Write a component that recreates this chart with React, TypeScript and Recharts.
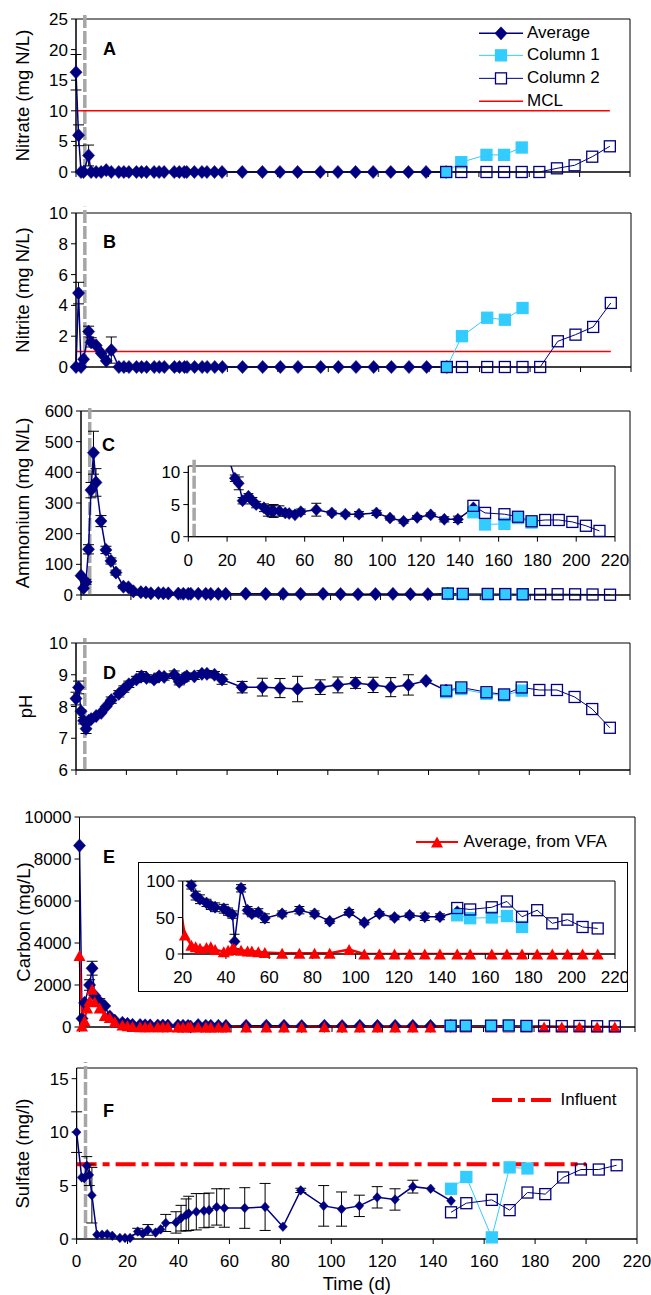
import React from 'react';
import { ComposedChart, Line, XAxis, YAxis, ErrorBar, ReferenceLine, ReferenceArea, Legend } from 'recharts';

const NAVY = '#000080';
const CYAN = '#33CCFF';
const RED = '#FF0000';
const GREY = '#A6A6A6';
const FONT = '"Liberation Sans", Arial, Helvetica, sans-serif';
const W = 651;

// sampling days
const avgDays = [
  0, 1, 2, 3, 4, 5, 6,
  8, 10, 12, 14, 17, 19, 21,
  24, 26, 28, 31, 33, 35,
  39, 41, 43, 44, 47, 50, 52, 55, 58,
  66, 74, 81, 88, 97, 104,
  111, 118, 125, 132, 139, 147,
];
const col1Days = [147, 153, 163, 170, 177];
const col2Days = [147, 153, 163, 170, 177, 184, 191, 198, 205, 212];
const vfaDays = [...avgDays, 153, 163, 170, 177, 184, 191, 198, 205, 212];
const limitDays = [0, 212];
const influentDays = [0, 200];
const xTicks = [0, 20, 40, 60, 80, 100, 120, 140, 160, 180, 200, 220];
const insetTicksE = [20, 40, 60, 80, 100, 120, 140, 160, 180, 200, 220];
const startupDay = 3.5;

// A - nitrate
const nitrateAvg = [
  16.3, 6.0, 0, 0, null, 2.7, 0,
  0, 0, 0.3, 0, 0, 0, 0,
  0, 0, 0, 0, 0, 0,
  0, 0, 0, 0, 0, 0, 0, 0, 0,
  0, 0, 0, 0, 0, 0,
  0, 0, 0, 0, 0, 0,
];
const nitrateErr = [
  2.9, 1.7, null, null, null, 1.7, null,
];
const nitrateCol1 = [0, 1.6, 2.8, 2.8, 4.0];
const nitrateCol2 = [0, 0, 0, 0, 0, 0, 0.6, 1.1, 2.5, 4.2];
const nitrateMcl = [10, 10];

// B - nitrite
const nitriteAvg = [
  0, 4.8, 0, 0.5, null, 2.3, 1.6,
  1.4, 0.9, 0.4, 1.1, 0, 0, 0,
  0, 0, 0, 0, 0, 0,
  0, 0, 0, 0, 0, 0, 0, 0, 0,
  0, 0, 0, 0, 0, 0,
  0, 0, 0, 0, 0, 0,
];
const nitriteErr = [
  null, 0.7, null, null, null, 0.35, 0.3,
  null, null, null, 0.85,
];
const nitriteCol1 = [0, 2.0, 3.2, 3.07, 3.83];
const nitriteCol2 = [0, 0, 0, 0, 0, 0, 1.67, 2.1, 2.6, 4.16];
const nitriteMcl = [1, 1];

// C - ammonium
const ammoniumAvg = [
  63, 22, 43, 149, 342, 464, 367,
  241, 147, 111, 73, 27, 25, 12,
  9.1, 8.3, 5.6, 6.3, 5.6, 5.0,
  4.5, 4.0, 4.0, 4.0, 4.0, 3.7, 3.6, 3.4, 3.9,
  4.2, 3.7, 3.5, 3.5, 3.7, 2.9,
  2.4, 3.0, 3.4, 2.7, 2.7, 4.5,
];
const ammoniumErr = [
  null, null, 8, 15, 25, 70, 45,
  18, 12, 10, 8, 5, null, null,
  0.5, 1.0, 0.5, 0.4, 0.5, 0.5,
  0.6, 0.8, 0.9, 1.0, 0.8, 0.5, 0.4, null, 0.4,
  1.0, 0.3, 0.3, 0.4, 0.4, 0.3,
  0.3, 0.3, 0.3, 0.4, 0.5, null,
];
const ammoniumCol1 = [3.8, 1.9, 2.0, 2.9, 2.2];
const ammoniumCol2 = [4.8, 3.7, 3.5, 3.1, 2.4, 2.6, 2.6, 2.3, 1.7, 0.9];

// D - pH
const phAvg = [
  8.25, 8.6, 7.85, 7.55, 7.3, 7.55, 7.6,
  7.7, 7.8, 8.0, 8.2, 8.4, 8.55, 8.7,
  8.85, 8.95, 8.9, 8.85, 8.95, 8.93,
  9.0, 8.78, 8.9, 8.95, 8.95, 9.03, 9.03, 9.0, 8.85,
  8.61, 8.61, 8.58, 8.55, 8.61, 8.68,
  8.74, 8.68, 8.61, 8.68, 8.81, 8.5,
];
const phErr = [
  0.2, 0.2, null, 0.1, 0.15, null, null,
  null, null, null, 0.1, 0.1, 0.1, 0.1,
  0.1, 0.15, 0.1, 0.1, 0.1, 0.1,
  0.12, 0.1, 0.1, 0.1, 0.1, 0.1, 0.1, 0.1, 0.15,
  0.18, 0.28, 0.3, 0.4, 0.23, 0.25,
  0.17, 0.24, 0.3, 0.32, null, null,
];
const phCol1 = [8.45, 8.55, 8.4, 8.35, 8.5];
const phCol2 = [8.5, 8.6, 8.45, 8.38, 8.6, 8.52, 8.52, 8.3, 7.92, 7.33];

// E - carbon
const carbonAvg = [
  8640, 400, 1150, null, 2000, 2800, 1500,
  1200, 1000, 500, 300, 200, 150, 103,
  94, 80, 75, 70, 66, 64,
  62, 58, 54, 17, 90, 60, 55, 57, 49,
  55, 60, 55, 45, 57, 43,
  55, 50, 53, 51, 51, 58,
];
const carbonErr = [
  null, null, null, null, 250, 330, null,
  150, null, null, null, null, null, 6,
  5, 6, 6, 5, 5, 6,
  6, 5, 5, 10, 5, 5, 4, 5, 6,
  4, 5, 4, 3, 4, 3,
  3, 3, 3, 5, 4, null,
];
const carbonVfa = [
  3400, 50, 300, 900, 1250, 1800, 1200,
  900, 550, 450, 250, 100, 60, 26,
  12, 10, 8, 9, 10, 6,
  3, 5, 8, 7, 5, 4, 4, 3, 2,
  1, 1, 1, 1, 6, 0,
  0, 0, 0, 0, 0, 0,
  0, 0, 0, 0, 0, 0, 0, 0, 0,
];
const carbonCol1 = [53, 49, 50, 52, 37];
const carbonCol2 = [63, 61, 64, 72, 51, 60, 42, 47, 37, 35];

// F - sulfate
const sulfateAvg = [
  10.0, null, 5.76, 5.7, 6.86, 6.0, 4.1,
  0.4, 0.4, 0.45, 0.3, 0.1, 0.1, 0.1,
  0.7, 0.5, 0.85, 0.6, 0.9, 1.5,
  1.55, 1.95, 2.25, 2.4, 2.55, 2.65, 2.7, 3.0, 2.9,
  2.9, 3.0, 1.15, 4.55, 3.1, 2.8,
  3.1, 3.9, 3.7, 4.9, 4.7, 3.57,
];
const sulfateErr = [
  1.9, null, null, null, 0.85, 1.0, 2.6,
  null, null, null, null, null, null, null,
  0.3, null, 0.5, null, null, 0.8,
  1.0, 1.2, 1.5, 1.6, 1.7, 1.6, 1.6, 1.7, 1.8,
  1.9, 2.2, null, 0.2, 1.9, 1.6,
  1.0, 1.0, 1.0, 0.6, null, null,
];
const sulfateCol1 = [4.7, 5.8, 0.15, 6.7, 6.6];
const sulfateCol2 = [2.5, 3.35, 3.66, 2.7, 4.35, 4.2, 5.76, 6.5, 6.5, 6.9];
const sulfateInfluent = [7, 7];

type Pt = { x: number; y: number; e?: number };
function pts(days: number[], vals: (number | null)[], errs?: (number | null)[]): Pt[] {
  const out: Pt[] = [];
  days.forEach((d, i) => {
    const v = vals[i];
    if (v == null) return;
    const e = errs ? errs[i] : null;
    out.push(e == null ? { x: d, y: v } : { x: d, y: v, e });
  });
  return out;
}
// points that fall inside an inset's window
function within(data: Pt[], xMin: number, yMax: number): Pt[] {
  return data.filter((p) => p.x >= xMin && p.y <= yMax);
}

type DotP = { cx?: number; cy?: number; index?: number };

const diamond = (r: number) => (p: DotP) => {
  const { cx, cy, index } = p;
  if (cx == null || cy == null) return <g key={`dm${index}`} />;
  const w = r * 0.92;
  return (
    <path key={`dm${index}`} d={`M${cx},${cy - r}L${cx + w},${cy}L${cx},${cy + r}L${cx - w},${cy}Z`}
      fill={NAVY} stroke={NAVY} strokeWidth={0.5} />
  );
};
const square = (s: number, fill: string, stroke: string) => (p: DotP) => {
  const { cx, cy, index } = p;
  if (cx == null || cy == null) return <g key={`sq${index}`} />;
  return <rect key={`sq${index}`} x={cx - s / 2} y={cy - s / 2} width={s} height={s} fill={fill} stroke={stroke} strokeWidth={1.3} />;
};
const triangle = (w: number, h: number) => (p: DotP) => {
  const { cx, cy, index } = p;
  if (cx == null || cy == null) return <g key={`tr${index}`} />;
  return <path key={`tr${index}`} d={`M${cx},${cy - h / 2}L${cx + w / 2},${cy + h / 2}L${cx - w / 2},${cy + h / 2}Z`} fill={RED} />;
};

const tickStyle = { fill: '#000', fontSize: 17, fontFamily: FONT };
const axisStroke = { stroke: '#000', strokeWidth: 1 };

type Box = { left: number; right: number; top: number; bottom: number };
const boxA: Box = { left: 76, right: 630, top: 19, bottom: 172 };
const boxB: Box = { left: 76, right: 631, top: 213, bottom: 367 };
const boxC: Box = { left: 81, right: 630, top: 411, bottom: 595 };
const boxD: Box = { left: 76, right: 630, top: 643, bottom: 770 };
const boxE: Box = { left: 79.5, right: 635, top: 817, bottom: 1027 };
const boxF: Box = { left: 76.6, right: 637, top: 1068, bottom: 1239 };
const PAD = 19;
const AXH = 12;
const DR = 6.6; // main diamond half-height
const SQ = 11;

function hiddenX(height: number) {
  return (
    <XAxis type="number" dataKey="x" domain={[0, 220]} ticks={xTicks} height={height} tickSize={5}
      tickFormatter={() => ''} axisLine={axisStroke} tickLine={axisStroke} />
  );
}

function leftY(domain: number[], ticks: number[], width: number, label: string, center = 22) {
  return (
    <YAxis type="number" domain={domain} ticks={ticks} width={width} tickSize={5} tickMargin={3}
      tick={tickStyle} axisLine={axisStroke} tickLine={axisStroke} interval={0}
      label={{ value: label, angle: -90, position: 'insideLeft', offset: center,
        style: { textAnchor: 'middle', fontSize: 18.5, fontFamily: FONT, fill: '#000' } }} />
  );
}

function frame(x1: number, x2: number, y1: number, y2: number) {
  return <ReferenceArea x1={x1} x2={x2} y1={y1} y2={y2} fill="none" fillOpacity={0} stroke="#000" strokeWidth={1} ifOverflow="visible" />;
}

function startup(x: number, y1: number, y2: number) {
  return (
    <ReferenceLine segment={[{ x, y: y1 }, { x, y: y2 }]} stroke={GREY} strokeWidth={3.5}
      strokeDasharray="13 3" ifOverflow="visible" />
  );
}

function avgLine(data: Pt[], r: number) {
  return (
    <Line data={data} dataKey="y" type="linear" stroke={NAVY} strokeWidth={1.5} dot={diamond(r)}
      activeDot={false} isAnimationActive={false}>
      <ErrorBar dataKey="e" width={5.5} stroke="#000" strokeWidth={1} direction="y" />
    </Line>
  );
}
function col1Line(data: Pt[], s = SQ) {
  return <Line data={data} dataKey="y" type="linear" stroke={CYAN} strokeWidth={1} dot={square(s, CYAN, CYAN)} activeDot={false} isAnimationActive={false} />;
}
function col2Line(data: Pt[], s = SQ) {
  return <Line data={data} dataKey="y" type="linear" stroke={NAVY} strokeWidth={1} dot={square(s, 'none', NAVY)} activeDot={false} isAnimationActive={false} />;
}
function vfaLine(data: Pt[]) {
  return <Line data={data} dataKey="y" type="linear" stroke={RED} strokeWidth={2} dot={triangle(12, 11)} activeDot={false} isAnimationActive={false} />;
}
function limitLine(data: Pt[]) {
  return <Line data={data} dataKey="y" type="linear" stroke={RED} strokeWidth={1.5} dot={false} activeDot={false} isAnimationActive={false} />;
}

// inset helpers: the line is clipped to the inset window, the markers are drawn on unclipped twin axes
function insetPath(data: Pt[], stroke: string, width: number) {
  return <Line data={data} dataKey="y" type="linear" stroke={stroke} strokeWidth={width} dot={false} activeDot={false} isAnimationActive={false} />;
}
function insetMarks(data: Pt[], dot: (p: DotP) => React.ReactElement, withErr = false) {
  return (
    <Line xAxisId="m" yAxisId="m" data={data} dataKey="y" type="linear" stroke="none" dot={dot}
      activeDot={false} isAnimationActive={false}>
      {withErr ? <ErrorBar dataKey="e" width={5} stroke="#000" strokeWidth={1} direction="y" /> : null}
    </Line>
  );
}
function twinAxes(xDomain: number[], yDomain: number[]) {
  return [
    <XAxis key="tx" xAxisId="m" hide type="number" dataKey="x" domain={xDomain} />,
    <YAxis key="ty" yAxisId="m" hide type="number" domain={yDomain} />,
  ];
}

type Row = { label: string; icon: (w: number, cy: number) => React.ReactNode };
function LegendRows({ rows, rowH, iconW, gap }: { rows: Row[]; rowH: number; iconW: number; gap: number }) {
  return (
    <div style={{ fontFamily: FONT, fontSize: 17, color: '#000' }}>
      {rows.map((r) => (
        <div key={r.label} style={{ display: 'flex', alignItems: 'center', height: rowH }}>
          <svg width={iconW} height={rowH} style={{ display: 'block', flex: 'none' }}>{r.icon(iconW, rowH / 2)}</svg>
          <span style={{ marginLeft: gap, whiteSpace: 'nowrap', lineHeight: `${rowH}px` }}>{r.label}</span>
        </div>
      ))}
    </div>
  );
}

const legendA: Row[] = [
  { label: 'Average', icon: (w, c) => (<g><line x1={0} x2={w} y1={c} y2={c} stroke={NAVY} strokeWidth={1.5} />{diamond(DR)({ cx: w / 2, cy: c, index: 0 })}</g>) },
  { label: 'Column 1', icon: (w, c) => (<g><line x1={0} x2={w} y1={c} y2={c} stroke={CYAN} strokeWidth={1} />{square(SQ, CYAN, CYAN)({ cx: w / 2, cy: c, index: 0 })}</g>) },
  { label: 'Column 2', icon: (w, c) => (<g><line x1={0} x2={w} y1={c} y2={c} stroke={NAVY} strokeWidth={1} />{square(SQ, '#fff', NAVY)({ cx: w / 2, cy: c, index: 0 })}</g>) },
  { label: 'MCL', icon: (w, c) => <line x1={0} x2={w} y1={c} y2={c} stroke={RED} strokeWidth={1.5} /> },
];
const legendE: Row[] = [
  { label: 'Average, from VFA', icon: (w, c) => (<g><line x1={0} x2={w} y1={c} y2={c} stroke={RED} strokeWidth={2} />{triangle(12, 11)({ cx: w / 2, cy: c, index: 0 })}</g>) },
];
const legendF: Row[] = [
  { label: 'Influent', icon: (w, c) => <line x1={0} x2={w} y1={c} y2={c} stroke={RED} strokeWidth={4} strokeDasharray="20 6 7 6" /> },
];

function legendAt(rows: Row[], left: number, top: number, rowH: number, iconW: number, gap: number) {
  return (
    <Legend layout="vertical" align="center" verticalAlign="middle"
      wrapperStyle={{ left, top, width: 200, height: rows.length * rowH }}
      content={() => <LegendRows rows={rows} rowH={rowH} iconW={iconW} gap={gap} />} />
  );
}

function chartSize(b: Box, axisH: number) {
  return {
    width: W,
    height: PAD + (b.bottom - b.top) + axisH,
    margin: { top: PAD, right: W - b.right, bottom: 0, left: 0 },
  };
}

function Letter({ text, x, y }: { text: string; x: number; y: number }) {
  return (
    <div style={{ position: 'absolute', left: x, top: y - 11, height: 22, lineHeight: '22px', fontFamily: FONT, fontWeight: 'bold', fontSize: 18, color: '#000' }}>
      {text}
    </div>
  );
}

export default function App() {
  const fAxisH = 1295 - boxF.bottom;
  const ammAvgPts = pts(avgDays, ammoniumAvg, ammoniumErr);
  const ammCol1Pts = pts(col1Days, ammoniumCol1);
  const ammCol2Pts = pts(col2Days, ammoniumCol2);
  const carbAvgPts = pts(avgDays, carbonAvg, carbonErr);
  const carbVfaPts = pts(vfaDays, carbonVfa);
  const carbCol1Pts = pts(col1Days, carbonCol1);
  const carbCol2Pts = pts(col2Days, carbonCol2);
  return (
    <div style={{ position: 'absolute', left: 0, top: 0, width: W, height: 1295, background: '#fff', overflow: 'hidden' }}>
      {/* A */}
      <div style={{ position: 'absolute', left: 0, top: boxA.top - PAD }}>
        <ComposedChart {...chartSize(boxA, AXH)}>
          {hiddenX(AXH)}
          {leftY([0, 25], [0, 5, 10, 15, 20, 25], boxA.left, 'Nitrate (mg N/L)')}
          {frame(0, 220, 0, 25)}
          {startup(startupDay, 0, 26)}
          {limitLine(pts(limitDays, nitrateMcl))}
          {avgLine(pts(avgDays, nitrateAvg, nitrateErr), DR)}
          {col1Line(pts(col1Days, nitrateCol1))}
          {col2Line(pts(col2Days, nitrateCol2))}
          {legendAt(legendA, 479, 21.7, 22.7, 44, 4)}
        </ComposedChart>
      </div>

      {/* B */}
      <div style={{ position: 'absolute', left: 0, top: boxB.top - PAD }}>
        <ComposedChart {...chartSize(boxB, AXH)}>
          {hiddenX(AXH)}
          {leftY([0, 10], [0, 2, 4, 6, 8, 10], boxB.left, 'Nitrite  (mg N/L)')}
          {frame(0, 220, 0, 10)}
          {startup(startupDay, 0, 10.4)}
          {limitLine(pts(limitDays, nitriteMcl))}
          {avgLine(pts(avgDays, nitriteAvg, nitriteErr), DR)}
          {col1Line(pts(col1Days, nitriteCol1))}
          {col2Line(pts(col2Days, nitriteCol2))}
        </ComposedChart>
      </div>

      {/* C */}
      <div style={{ position: 'absolute', left: 0, top: boxC.top - PAD }}>
        <ComposedChart {...chartSize(boxC, AXH)}>
          {hiddenX(AXH)}
          {leftY([0, 600], [0, 100, 200, 300, 400, 500, 600], boxC.left, 'Ammonium (mg N/L)')}
          {frame(0, 220, 0, 600)}
          {startup(startupDay, 0, 610)}
          {avgLine(ammAvgPts, DR)}
          {col1Line(ammCol1Pts)}
          {col2Line(ammCol2Pts)}
        </ComposedChart>
      </div>
      {/* C inset */}
      <div style={{ position: 'absolute', left: 140, top: 446 }}>
        <ComposedChart width={490} height={130} margin={{ top: 20, right: 15, bottom: 0, left: 0 }}>
          <XAxis type="number" dataKey="x" domain={[0, 220]} ticks={xTicks} allowDataOverflow height={39.3}
            tickSize={5} tickMargin={12} tick={tickStyle} axisLine={axisStroke} tickLine={axisStroke} interval={0} />
          <YAxis type="number" domain={[0, 11]} ticks={[0, 5, 10]} allowDataOverflow width={48.3} tickSize={5}
            tickMargin={3} tick={tickStyle} axisLine={axisStroke} tickLine={axisStroke} interval={0} />
          {twinAxes([0, 220], [0, 11])}
          {frame(0, 220, 0, 11)}
          {startup(3, 0, 12.4)}
          {insetPath(ammAvgPts, NAVY, 1.5)}
          {insetPath(ammCol1Pts, CYAN, 1)}
          {insetPath(ammCol2Pts, NAVY, 1)}
          {insetMarks(within(ammAvgPts, 0, 11), diamond(6), true)}
          {insetMarks(ammCol1Pts, square(SQ, CYAN, CYAN))}
          {insetMarks(ammCol2Pts, square(SQ, 'none', NAVY))}
        </ComposedChart>
      </div>

      {/* D */}
      <div style={{ position: 'absolute', left: 0, top: boxD.top - PAD }}>
        <ComposedChart {...chartSize(boxD, AXH)}>
          {hiddenX(AXH)}
          {leftY([6, 10], [6, 7, 8, 9, 10], boxD.left, 'pH', 25)}
          {frame(0, 220, 6, 10)}
          {startup(startupDay, 6, 10.16)}
          {avgLine(pts(avgDays, phAvg, phErr), DR)}
          {col1Line(pts(col1Days, phCol1))}
          {col2Line(pts(col2Days, phCol2))}
        </ComposedChart>
      </div>

      {/* E */}
      <div style={{ position: 'absolute', left: 0, top: boxE.top - PAD }}>
        <ComposedChart {...chartSize(boxE, AXH)}>
          {hiddenX(AXH)}
          {leftY([0, 10000], [0, 2000, 4000, 6000, 8000, 10000], boxE.left, 'Carbon (mg/L)', 23)}
          {frame(0, 220, 0, 10000)}
          {avgLine(carbAvgPts, DR)}
          {vfaLine(carbVfaPts)}
          {col1Line(carbCol1Pts)}
          {col2Line(carbCol2Pts)}
          {legendAt(legendE, 416, 842 - (boxE.top - PAD) - 11, 22, 42, 5.6)}
        </ComposedChart>
      </div>
      {/* E inset */}
      <div style={{ position: 'absolute', left: 138, top: 862, width: 490, height: 130, background: '#fff', border: '1.5px solid #000', boxSizing: 'border-box' }} />
      <div style={{ position: 'absolute', left: 138, top: 862 }}>
        <ComposedChart width={490} height={130} margin={{ top: 19, right: 13, bottom: 0, left: 0 }}>
          <XAxis type="number" dataKey="x" domain={[20, 220]} ticks={insetTicksE} allowDataOverflow height={38}
            tickSize={5} tickMargin={12} tick={tickStyle} axisLine={axisStroke} tickLine={axisStroke} interval={0} />
          <YAxis type="number" domain={[0, 100]} ticks={[0, 50, 100]} allowDataOverflow width={44.7} tickSize={5}
            tickMargin={3} tick={tickStyle} axisLine={axisStroke} tickLine={axisStroke} interval={0} />
          {twinAxes([20, 220], [0, 100])}
          {frame(20, 220, 0, 100)}
          {insetPath(carbAvgPts, NAVY, 1.5)}
          {insetPath(carbVfaPts, RED, 2.5)}
          {insetPath(carbCol1Pts, CYAN, 1)}
          {insetPath(carbCol2Pts, NAVY, 1)}
          {insetMarks(within(carbAvgPts, 20, 100), diamond(6), true)}
          {insetMarks(within(carbVfaPts, 20, 100), triangle(12, 11))}
          {insetMarks(carbCol1Pts, square(SQ, CYAN, CYAN))}
          {insetMarks(carbCol2Pts, square(SQ, 'none', NAVY))}
        </ComposedChart>
      </div>

      {/* F */}
      <div style={{ position: 'absolute', left: 0, top: boxF.top - PAD }}>
        <ComposedChart {...chartSize(boxF, fAxisH)}>
          <XAxis type="number" dataKey="x" domain={[0, 220]} ticks={xTicks} height={fAxisH} tickSize={5}
            tickMargin={11} tick={tickStyle} axisLine={axisStroke} tickLine={axisStroke} interval={0}
            label={{ value: 'Time (d)', position: 'insideBottom', offset: 5,
              style: { fontSize: 18.5, fontFamily: FONT, fill: '#000' } }} />
          {leftY([0, 16], [0, 5, 10, 15], boxF.left, 'Sulfate (mg/l)')}
          {frame(0, 220, 0, 16)}
          {startup(startupDay, 0, 16.56)}
          <Line data={pts(influentDays, sulfateInfluent)} dataKey="y" type="linear" stroke={RED} strokeWidth={4}
            strokeDasharray="20 6 7 6" dot={false} activeDot={false} isAnimationActive={false} />
          {avgLine(pts(avgDays, sulfateAvg, sulfateErr), 4.8)}
          {col1Line(pts(col1Days, sulfateCol1))}
          {col2Line(pts(col2Days, sulfateCol2))}
          {legendAt(legendF, 491.6, 1100 - (boxF.top - PAD) - 11, 22, 65, 4)}
        </ComposedChart>
      </div>

      <Letter text="A" x={103} y={49} />
      <Letter text="B" x={103} y={242} />
      <Letter text="C" x={102} y={445} />
      <Letter text="D" x={103} y={673} />
      <Letter text="E" x={103} y={857} />
      <Letter text="F" x={103} y={1111} />
    </div>
  );
}
